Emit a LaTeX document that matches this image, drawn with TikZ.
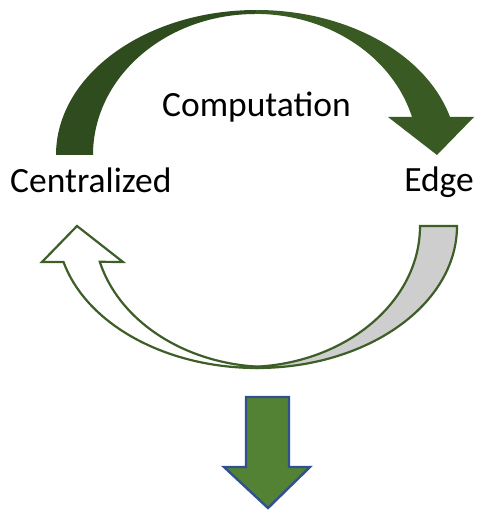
\documentclass[tikz,border=0pt]{standalone}
\usepackage{fontspec}
\setmainfont{Carlito}
\usetikzlibrary{positioning}
\definecolor{leafdark}{HTML}{2F4C1E}
\definecolor{leaf}{HTML}{3A5A24}
\definecolor{leafline}{HTML}{3D5E27}
\definecolor{shade}{HTML}{CECECE}
\definecolor{dropfill}{HTML}{548235}
\definecolor{dropline}{HTML}{2F528F}
\tikzset{
    word/.style={inner sep=0pt, font=\fontsize{35.5}{40}\selectfont},
    band/.style={draw=leafline, line width=2.2pt},
    drop/.style={fill=dropfill, draw=dropline, line width=2.4pt, line join=miter}
}

\begin{document}
\begin{tikzpicture}[x=1pt,y=-1pt]
    \useasboundingbox (0,0) rectangle (478,510);
    % upper arrow
    \def \ax {200.5}
    \def \ay {145}
    \def \bx {162.5}
    \def \by {141}
    \fill[leafdark] (56,155) arc[start angle=180, end angle=270, x radius=\ax, y radius=\ay]
        -- (255.5,14) arc[start angle=270, end angle=180, x radius=\bx, y radius=\by] -- cycle;
    \fill[leaf] (256.5,10) arc[start angle=270, end angle=344.8, x radius=\ax, y radius=\ay]
        -- (474,117) -- (437,155) -- (388,117) -- (412,117)
        arc[start angle=344.4, end angle=270, x radius=\bx, y radius=\by] -- cycle;
    % lower arrow, back part first
    \def \rx {200}
    \def \ry {142}
    \path[band, fill=shade] (457,226) arc[start angle=0, end angle=90, x radius=\rx, y radius=\ry]
        -- (245,367) arc[start angle=90, end angle=0, x radius=175, y radius=141] -- cycle;
    \path[band, fill=white, line join=miter] (257,368) arc[start angle=90, end angle=165.3, x radius=\rx, y radius=\ry]
        -- (42,262) -- (77,226) -- (123,262) -- (99.8,261.8)
        arc[start angle=165.3, end angle=90, x radius=176, y radius=141] -- cycle;
    % down arrow
    \path[drop] (246,397) -- (289,397) -- (289,467) -- (310,467) -- (268,508)
        -- (224,467) -- (246,467) -- cycle;
    % texts
    \node[word, anchor=base west] (cent) at (10,193) {Centralized};
    \node[word, anchor=base east] (edge) at (474,192) {Edge};
    \node[word, anchor=base] (comp) at (256.5,117) {Computation};
\end{tikzpicture}
\end{document}
